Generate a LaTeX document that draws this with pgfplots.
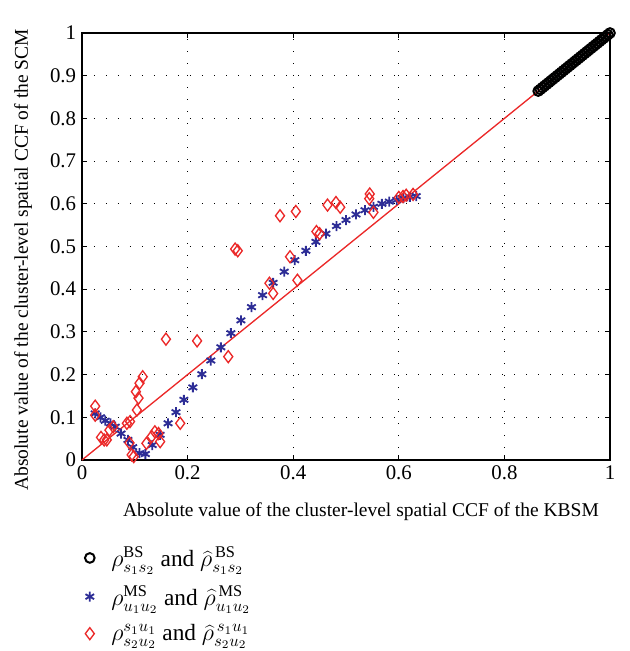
\documentclass[border=0pt]{standalone}
\usepackage{pgfplots}
\pgfplotsset{compat=1.18}
\usepackage{fontspec}
\setmainfont{Liberation Serif}
\definecolor{bluestar}{RGB}{45,45,150}
\definecolor{reddia}{RGB}{235,40,40}
\begin{document}
\begin{tikzpicture}
\begin{axis}[
  width=316.8pt, height=256.2pt, scale only axis,
  xmin=0, xmax=1, ymin=0, ymax=1,
  xtick={0,0.2,0.4,0.6,0.8,1},
  ytick={0,0.1,0.2,0.3,0.4,0.5,0.6,0.7,0.8,0.9,1},
  xticklabels={0,0.2,0.4,0.6,0.8,1},
  yticklabels={0,0.1,0.2,0.3,0.4,0.5,0.6,0.7,0.8,0.9,1},
  /pgf/number format/assume math mode=true,
  tick label style={font=\fontsize{12.5}{14}\selectfont},
  label style={font=\fontsize{11.7}{13}\selectfont},
  xlabel={Absolute value of the cluster-level spatial CCF of the KBSM},
  ylabel={Absolute value of the cluster-level spatial CCF of the SCM},
  xlabel style={xshift=9pt, yshift=-7pt},
  ylabel style={yshift=4pt, xshift=-8pt},
  grid=major,
  major grid style={black, line width=0.6pt, dash pattern=on 0.7pt off 6.5pt},
  axis line style={line width=0.9pt},
  tick style={black, line width=0.6pt},
  major tick length=3pt,
  clip=false,
  legend style={at={(axis description cs:0.005,-0.195)}, anchor=north west, draw=none, fill=none,
    font=\fontsize{14}{16}\selectfont, row sep=6pt, inner sep=0pt,
    nodes={inner sep=2pt}},
  legend cell align=left,
  legend image post style={xshift=-2pt},
]
\addplot[only marks, mark=o, black, mark size=2.9pt, mark options={line width=1.2pt}] coordinates {
(0.864,0.864)(0.868,0.868)(0.872,0.872)(0.876,0.876)(0.880,0.880)(0.884,0.884)(0.888,0.888)
(0.892,0.892)(0.896,0.896)(0.900,0.900)(0.904,0.904)(0.908,0.908)(0.912,0.912)(0.916,0.916)
(0.920,0.920)(0.924,0.924)(0.928,0.928)(0.932,0.932)(0.936,0.936)(0.940,0.940)(0.944,0.944)
(0.948,0.948)(0.952,0.952)(0.956,0.956)(0.960,0.960)(0.964,0.964)(0.968,0.968)(0.972,0.972)
(0.976,0.976)(0.980,0.980)(0.984,0.984)(0.988,0.988)(0.992,0.992)(0.996,0.996)(1.000,1.000)
};
\addlegendentry{\hspace{8pt}\(\rho^{\mathrm{BS}}_{s_1 s_2}\) and \(\widehat{\rho}^{\,\mathrm{BS}}_{s_1 s_2}\)}
\addplot[only marks, mark=asterisk, bluestar, mark size=3pt, mark options={line width=1.1pt}] coordinates {
(0.025,0.109)(0.035,0.100)(0.044,0.092)(0.054,0.086)(0.063,0.078)(0.074,0.062)(0.087,0.047)
(0.096,0.030)(0.109,0.016)(0.120,0.014)(0.133,0.035)(0.148,0.059)(0.163,0.086)(0.178,0.112)
(0.193,0.141)(0.210,0.170)(0.227,0.201)(0.244,0.233)(0.263,0.264)(0.282,0.297)(0.301,0.327)
(0.321,0.358)(0.342,0.386)(0.362,0.415)(0.383,0.441)(0.403,0.468)(0.424,0.490)(0.443,0.511)
(0.462,0.530)(0.482,0.548)(0.500,0.562)(0.519,0.575)(0.536,0.585)(0.552,0.593)(0.568,0.600)
(0.582,0.605)(0.596,0.609)(0.609,0.613)(0.621,0.616)(0.633,0.618)
};
\addlegendentry{\hspace{8pt}\(\rho^{\mathrm{MS}}_{u_1 u_2}\) and \(\widehat{\rho}^{\,\mathrm{MS}}_{u_1 u_2}\)}
\addplot[only marks, mark=diamond, reddia, mark size=3.6pt, mark options={line width=0.8pt}] coordinates {
(0.025,0.126)(0.025,0.105)(0.036,0.053)(0.042,0.047)(0.047,0.047)(0.052,0.070)(0.059,0.078)
(0.085,0.086)(0.091,0.090)(0.090,0.040)(0.094,0.012)(0.098,0.008)(0.104,0.117)(0.102,0.160)
(0.107,0.145)(0.109,0.180)(0.115,0.195)(0.122,0.039)(0.132,0.055)(0.138,0.066)(0.145,0.062)
(0.148,0.043)(0.186,0.086)(0.159,0.283)(0.218,0.279)(0.277,0.242)(0.290,0.494)(0.295,0.490)
(0.355,0.414)(0.362,0.390)(0.375,0.572)(0.394,0.476)(0.405,0.582)(0.408,0.421)(0.444,0.535)
(0.450,0.530)(0.465,0.597)(0.481,0.603)(0.489,0.592)(0.544,0.612)(0.545,0.623)(0.552,0.580)
(0.600,0.615)(0.608,0.617)(0.614,0.620)(0.627,0.622)
};
\addlegendentry{\hspace{8pt}\(\rho^{s_1 u_1}_{s_2 u_2}\) and \(\widehat{\rho}^{\,s_1 u_1}_{s_2 u_2}\)}
\addplot[reddia, line width=0.8pt, forget plot] coordinates {(0,0)(1,1)};
\end{axis}
\pgfresetboundingbox
\path[use as bounding box] ([xshift=-49.2pt,yshift=-114.6pt]current axis.south west) rectangle ([xshift=11.4pt,yshift=19.8pt]current axis.north east);
\end{tikzpicture}
\end{document}
